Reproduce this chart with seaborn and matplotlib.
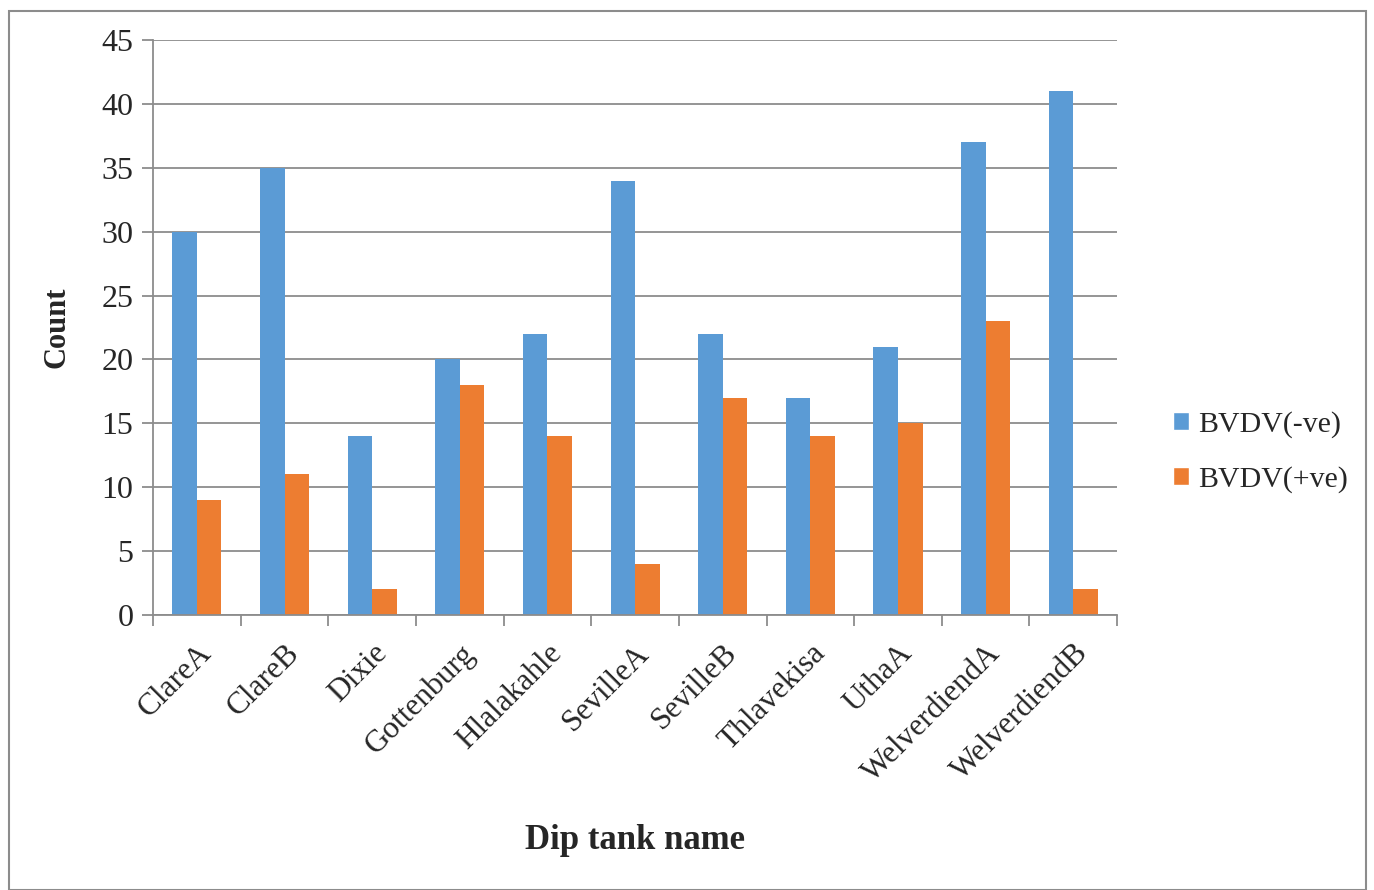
import matplotlib
matplotlib.use("Agg")
import matplotlib.pyplot as plt
import seaborn as sns
import pandas as pd
from matplotlib.patches import Rectangle, Patch

categories = ["ClareA", "ClareB", "Dixie", "Gottenburg", "Hlalakahle", "SevilleA",
              "SevilleB", "Thlavekisa", "UthaA", "WelverdiendA", "WelverdiendB"]
neg_values = [30, 35, 14, 20, 22, 34, 22, 17, 21, 37, 41]
pos_values = [9, 11, 2, 18, 14, 4, 17, 14, 15, 23, 2]
series_names = ["BVDV(-ve)", "BVDV(+ve)"]
colors = ["#5B9BD5", "#ED7D31"]

df = pd.DataFrame({
    "Dip tank name": categories * 2,
    "Count": neg_values + pos_values,
    "Series": [series_names[0]] * len(categories) + [series_names[1]] * len(categories),
})

sns.set_theme(style="white")
plt.rcParams['font.family'] = ['Liberation Serif', 'DejaVu Serif']

fig = plt.figure(figsize=(13.74, 8.9), dpi=100)
ax = fig.add_axes([0.1114, 0.309, 0.7016, 0.646])

sns.barplot(data=df, x="Dip tank name", y="Count", hue="Series",
            palette=colors, width=0.56, ax=ax, legend=False, saturation=1,
            linewidth=0, edgecolor="none")

ax.set_ylim(0, 45)
ax.set_xlim(-0.5, len(categories) - 0.5)
ax.set_yticks(range(0, 46, 5))
ax.yaxis.grid(True, color="#8c8c8c", linewidth=1.3)
ax.set_axisbelow(True)
for s in ["top", "right"]:
    ax.spines[s].set_visible(False)
for s in ["left", "bottom"]:
    ax.spines[s].set_color("#8c8c8c")
    ax.spines[s].set_linewidth(1.3)

ax.tick_params(axis="y", which="both", left=True, length=8, width=1.3, color="#8c8c8c",
               labelsize=23, pad=6)
ax.set_xticks(range(len(categories)))
ax.set_xticklabels(categories, rotation=45, ha="right", rotation_mode="anchor", fontsize=22.5)
ax.tick_params(axis="x", which="major", bottom=False, pad=11)
ax.set_xticks([i - 0.5 for i in range(len(categories) + 1)], minor=True)
ax.tick_params(axis="x", which="minor", bottom=True, length=8, width=1.3, color="#8c8c8c")

ax.set_ylabel("Count", fontsize=22, fontweight="bold", labelpad=22)
ax.set_xlabel("Dip tank name", fontsize=25, fontweight="bold", labelpad=26)

handles = [Patch(facecolor=c, label=n) for c, n in zip(colors, series_names)]
fig.legend(handles=handles, loc="center left", bbox_to_anchor=(0.834, 0.492),
           frameon=False, fontsize=21.5, handlelength=0.55, handleheight=0.55,
           handletextpad=0.3, labelspacing=0.95)

fig.add_artist(Rectangle((0.0066, 0.0), 0.9875, 0.988, transform=fig.transFigure,
                         fill=False, edgecolor="#8c8c8c", linewidth=1.5))

fig.savefig("out.png", dpi=100)
